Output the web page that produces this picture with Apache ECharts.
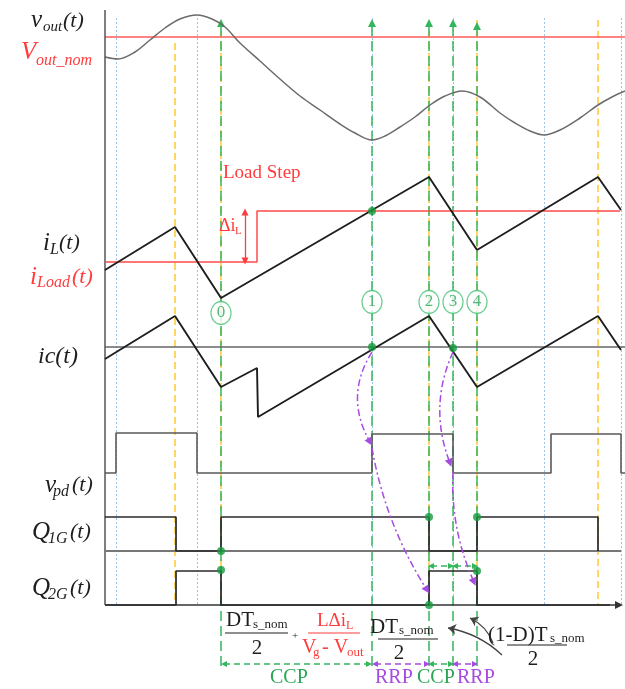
<!DOCTYPE html>
<html>
<head>
<meta charset="utf-8">
<script src="https://cdn.jsdelivr.net/npm/echarts@6/dist/echarts.min.js"></script>
<style>
  html, body { margin: 0; padding: 0; background: #fff; }
  #chart { width: 625px; height: 689px; }
</style>
</head>
<body>
<div id="chart"></div>
<script>
// time instants (diagram units) of the marked events 0..4
var eventT = [221, 372, 429, 453, 477];
var eventNames = ['0', '1', '2', '3', '4'];
var eventLabelV = [313, 302, 302, 302, 302];
var blueT = [116, 197, 372, 453, 544, 621];
var yellowT = [175, 221, 429, 477, 598];
var yellowTop = [43, 20, 20, 20, 20];

// output voltage
var voutT = [105,118,135,150,165,180,197,212,225,240,260,280,300,320,340,355,372,385,400,415,430,445,462,480,500,515,530,544,560,580,598,612,625];
var voutV = [57,59,52,40,28,19,15,19,27,43,61,79,96,110,124,133,140,136,127,117,105,96,91,97,113,123,131,135,130,118,105,97,91];
var vnomV = 37;

// inductor / load / capacitor currents
var iLT = [105, 175, 221, 429, 477, 598, 621];
var iLV = [270, 227, 298, 177, 250, 177, 210];
var iLoadT = [105, 257, 257, 620];
var iLoadV = [262, 262, 211, 211];
var icT = [105, 175, 221, 257, 258, 429, 477, 598, 621];
var icV = [359, 316, 387, 368, 417, 316, 387, 316, 350];
var icZero = 347;

// gate / detector signals
var vpdT = [105,116,116,197,197,372,372,453,453,551,551,621,621,625];
var vpdV = [473,473,433,433,473,473,434,434,473,473,434,434,473,473];
var q1T = [105,176,176,221,221,429,429,477,477,598,598];
var q1V = [517,517,551,551,517,517,551,551,517,517,551];
var q1Base = 551;
var q2T = [105,176,176,221,221,429,429,477,477,610];
var q2V = [605,605,571,571,605,605,571,571,605,605];
var q2Base = 605;

// green markers
var dotT = [372, 372, 453, 221, 221, 429, 477, 477, 429];
var dotV = [211, 347, 348, 551, 570, 517, 517, 571, 605];

var GREEN = '#34b65c', PURPLE = '#a64ce0', RED = '#ff3c3c', INK = '#1e1e1e';
var FONT = '"Liberation Serif", "DejaVu Serif", serif';

function zip(t, v) { return t.map(function (x, i) { return [x, v[i]]; }); }
function seg(a, b, c) { var d = { coords: [a, b] }; if (c) d.lineStyle = { curveness: c }; return d; }

function T(x, y, s, size, color, italic, align) {
  return {
    type: 'text', x: x, y: y, silent: true, z: 50,
    style: {
      text: s, fill: color || INK, align: align || 'left', verticalAlign: 'middle',
      textAlign: align || 'left', textVerticalAlign: 'middle',
      font: (italic ? 'italic ' : '') + size + 'px ' + FONT
    }
  };
}
function L(x1, y1, x2, y2, color) {
  return { type: 'line', silent: true, z: 50, shape: { x1: x1, y1: y1, x2: x2, y2: y2 }, style: { stroke: color || INK, lineWidth: 1 } };
}

function plain(name, data, color, width, extra) {
  var s = {
    name: name, type: 'line', data: data, symbol: 'none', silent: true,
    lineStyle: { color: color, width: width }, z: 5
  };
  for (var k in extra) s[k] = extra[k];
  return s;
}

var myChart = echarts.init(document.getElementById('chart'));

var option = {
  animation: false,
  grid: { left: 0, right: 0, top: 0, bottom: 0 },
  xAxis: { type: 'value', min: 0, max: 625, show: false },
  yAxis: { type: 'value', min: 0, max: 689, inverse: true, show: false },
  series: [
    {
      type: 'lines', coordinateSystem: 'cartesian2d', silent: true, z: 1,
      lineStyle: { color: '#9dc3e6', width: 1, type: [2, 2], opacity: 1 },
      data: blueT.map(function (x) { return seg([x, 18], [x, 605]); })
    },
    {
      type: 'lines', coordinateSystem: 'cartesian2d', silent: true, z: 1,
      lineStyle: { color: '#ffc830', width: 1.5, type: [7, 4], opacity: 1 },
      data: yellowT.map(function (x, i) { return seg([x, yellowTop[i]], [x, 605]); })
    },
    {
      type: 'lines', coordinateSystem: 'cartesian2d', silent: true, z: 2,
      symbol: ['none', 'triangle'], symbolSize: 8,
      lineStyle: { color: GREEN, width: 1.5, type: [10, 5], opacity: 1 },
      data: eventT.map(function (x, i) { return seg([x, 666], [x, i === 4 ? 26 : 23]); })
    },
    plain('vnom', [[105, vnomV], [625, vnomV]], '#ff5a5a', 1.5),
    plain('vout', zip(voutT, voutV), '#6b6b6b', 1.5, { smooth: 0.35 }),
    plain('axis', [[105, 10], [105, 605]], '#555', 1.5),
    plain('iLoad', zip(iLoadT, iLoadV), '#ff4a4a', 1.5),
    plain('iL', zip(iLT, iLV), INK, 1.9),
    plain('icZero', [[105, icZero], [625, icZero]], '#666', 1.5),
    plain('ic', zip(icT, icV), INK, 1.9),
    plain('vpd', zip(vpdT, vpdV), '#5a5a5a', 1.6),
    plain('q1Base', [[105, q1Base], [621, q1Base]], '#777', 2),
    plain('q1', zip(q1T, q1V), '#2a2a2a', 1.7),
    {
      type: 'lines', coordinateSystem: 'cartesian2d', silent: true, z: 4,
      symbol: ['none', 'triangle'], symbolSize: 8,
      lineStyle: { color: '#333', width: 1.7, opacity: 1 },
      data: [seg([105, q2Base], [619, q2Base])]
    },
    plain('q2', zip(q2T, q2V), '#2a2a2a', 1.7),
    // delta iL arrow
    {
      type: 'lines', coordinateSystem: 'cartesian2d', silent: true, z: 6,
      symbol: ['triangle', 'triangle'], symbolSize: 7,
      lineStyle: { color: RED, width: 1.3, opacity: 1 },
      data: [seg([245, 212], [245, 261])]
    },
    // CCP spans
    {
      type: 'lines', coordinateSystem: 'cartesian2d', silent: true, z: 6,
      symbol: ['triangle', 'triangle'], symbolSize: 6,
      lineStyle: { color: GREEN, width: 1.5, type: [6, 4], opacity: 1 },
      data: [seg([224, 664], [369, 664]), seg([431, 664], [451, 664]),
             seg([431, 566], [451, 566]), seg([455, 566], [475, 566])]
    },
    // RRP spans
    {
      type: 'lines', coordinateSystem: 'cartesian2d', silent: true, z: 6,
      symbol: ['triangle', 'triangle'], symbolSize: 6,
      lineStyle: { color: PURPLE, width: 1.5, type: [6, 4], opacity: 1 },
      data: [seg([375, 664], [427, 664]), seg([455, 664], [475, 664])]
    },
    // purple cause arrows
    {
      type: 'lines', coordinateSystem: 'cartesian2d', silent: true, z: 7,
      symbol: ['none', 'triangle'], symbolSize: 8,
      lineStyle: { color: PURPLE, width: 1.5, type: [7, 3, 2, 3], opacity: 1 },
      data: [seg([372, 352], [370, 442], -0.3), seg([453, 352], [450, 463], -0.21),
             seg([372, 448], [427, 590], -0.1), seg([453, 472], [474, 582], -0.12)]
    },
    // black annotation arrows
    {
      type: 'lines', coordinateSystem: 'cartesian2d', silent: true, z: 7,
      symbol: ['none', 'arrow'], symbolSize: 8,
      lineStyle: { color: '#444', width: 1.3, opacity: 1 },
      data: [seg([493, 643], [470, 618], -0.2), seg([502, 655], [448, 628], -0.15)]
    },
    {
      type: 'scatter', silent: true, z: 8, symbolSize: 8,
      itemStyle: { color: '#159a3e' },
      data: zip(dotT, dotV)
    },
    {
      type: 'scatter', silent: true, z: 9, symbol: 'circle', symbolSize: [20, 23],
      itemStyle: { color: '#fff', borderColor: '#45c274', borderWidth: 1.3 },
      label: {
        show: true, position: 'inside', color: '#2aa656', fontSize: 17, fontFamily: FONT,
        formatter: function (p) { return eventNames[p.dataIndex]; }
      },
      data: zip(eventT, eventLabelV)
    }
  ],
  graphic: [
    T(31, 20, 'v', 25, INK, true), T(43, 27, 'out', 15, INK, true), T(63, 21, '(t)', 22, INK, true),
    T(21, 52, 'V', 25, RED, true), T(36, 61, 'out_nom', 16, RED, true),
    T(43, 243, 'i', 25, INK, true), T(50, 250, 'L', 16, INK, true), T(59, 243, '(t)', 22, INK, true),
    T(30, 277, 'i', 25, RED, true), T(37, 283, 'Load', 16, RED, true), T(72, 277, '(t)', 22, RED, true),
    T(38, 357, 'ic(t)', 24, INK, true),
    T(45, 485, 'v', 25, INK, true), T(53, 492, 'pd', 16, INK, true), T(72, 485, '(t)', 22, INK, true),
    T(32, 532, 'Q', 25, INK, true), T(48, 539, '1G', 16, INK, true), T(70, 532, '(t)', 22, INK, true),
    T(32, 588, 'Q', 25, INK, true), T(48, 595, '2G', 16, INK, true), T(70, 588, '(t)', 22, INK, true),
    T(223, 173, 'Load Step', 19, RED, false),
    T(219, 226, 'Δi', 18, RED, false), T(235, 231, 'L', 11, RED, false),
    // DTs_nom / 2
    T(226, 620, 'DT', 21, INK), T(253, 625, 's_nom', 13, INK), L(225, 633, 288, 633), T(257, 648, '2', 21, INK, false, 'center'),
    T(295, 636, '+', 11, INK, false, 'center'),
    // L delta iL / (Vg - Vout)
    T(317, 621, 'LΔi', 19, RED), T(346, 626, 'L', 12, RED), L(308, 633, 360, 633, RED),
    T(302, 648, 'V', 20, RED), T(313, 653, 'g', 13, RED), T(322, 648, '- V', 20, RED), T(347, 653, 'out', 13, RED),
    // DTs_nom / 2
    T(370, 627, 'DT', 21, INK), T(399, 631, 's_nom', 13, INK), L(378, 639, 438, 639), T(399, 653, '2', 21, INK, false, 'center'),
    // (1-D)Ts_nom / 2
    T(488, 635, '(1-D)T', 21, INK), T(550, 639, 's_nom', 13, INK), L(507, 645, 567, 645), T(533, 659, '2', 21, INK, false, 'center'),
    T(270, 678, 'CCP', 20, '#2aa656'), T(375, 678, 'RRP', 20, PURPLE),
    T(417, 678, 'CCP', 20, '#2aa656'), T(457, 678, 'RRP', 20, PURPLE)
  ]
};

myChart.setOption(option);
</script>
</body>
</html>
